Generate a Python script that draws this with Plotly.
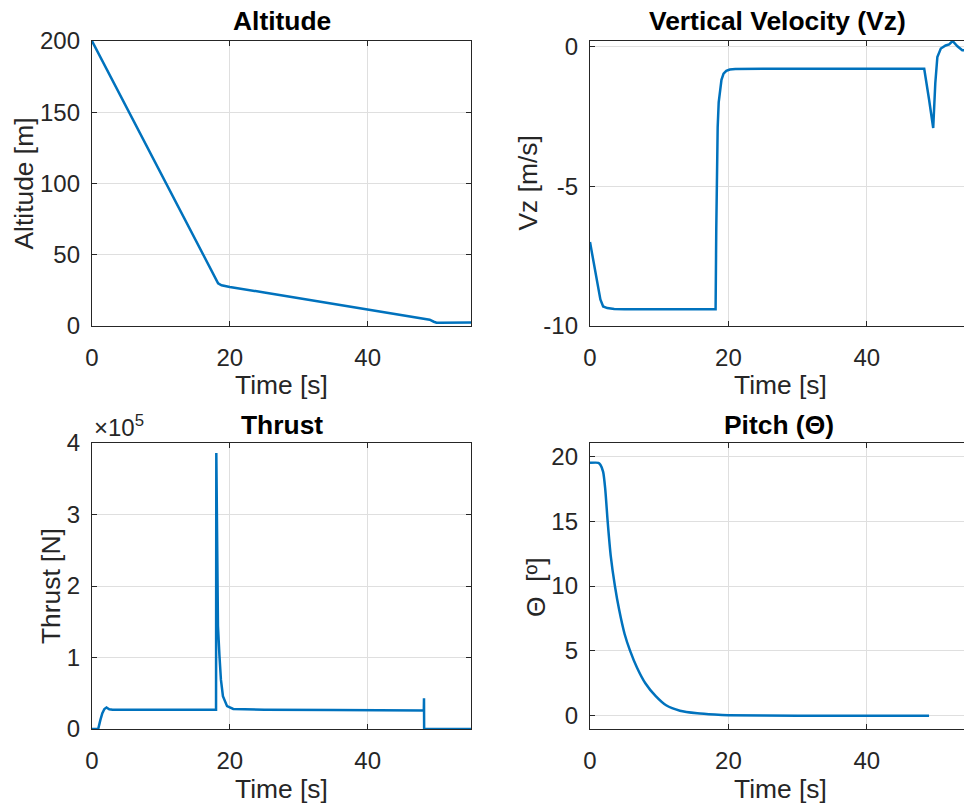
import plotly.graph_objects as go

# ---------------- data ----------------
t_alt = [0, 2, 5, 10, 15, 17.5, 18.3, 18.8, 19.5, 20, 25, 30, 35, 40, 45, 48.3, 49.0, 49.6, 50.0, 50.5, 52, 55]
altitude = [200, 181.4, 153.5, 107, 60.5, 37.2, 30.0, 28.6, 27.8, 27.4, 23.5, 19.6, 15.7, 11.8, 7.9, 5.3, 4.4, 3.0, 2.3, 2.2, 2.2, 2.4]

t_vz = [0, 0.5, 1.0, 1.5, 1.9, 2.5, 3.5, 5, 10, 15, 18.15, 18.25, 18.35, 18.45, 18.6, 18.8, 19.0, 19.3, 19.7, 20.2, 21,
        25, 30, 40, 48.3, 49.0, 49.6, 49.9, 50.2, 50.7, 51.4, 51.9, 52.4, 53.1, 53.8, 54.3, 55]
vz = [-7.0, -7.7, -8.4, -9.05, -9.3, -9.36, -9.39, -9.4, -9.4, -9.4, -9.4, -6.5, -4.0, -2.9, -2.0, -1.45, -1.2, -0.98, -0.88, -0.83, -0.81,
      -0.8, -0.8, -0.8, -0.8, -1.9, -2.92, -1.33, -0.38, -0.08, 0.03, 0.07, 0.19, 0.0, -0.14, -0.15, -0.12]

t_thrust = [0, 0.9, 1.2, 1.5, 1.8, 2.1, 2.5, 3, 10, 18.0, 18.04, 18.15, 18.28, 18.5, 18.71, 19.0, 19.6, 20.5, 25, 35, 48.15, 48.18, 48.2, 55]
thrust = [0, 0, 1.2e4, 2.2e4, 2.8e4, 3.0e4, 2.75e4, 2.7e4, 2.7e4, 2.7e4, 3.86e5, 2.6e5, 1.44e5, 1.02e5, 0.69e5, 0.46e5, 0.32e5, 0.28e5, 0.27e5, 0.265e5, 0.26e5, 0.43e5, 0, 0]

t_pitch = [0, 1.2, 1.5, 1.9, 2.2, 2.55, 3.0, 3.6, 4.2, 5.0, 5.8, 6.8, 8.0, 9.5, 11, 13, 15.5, 18, 20, 30, 40, 49.0]
pitch = [19.5, 19.5, 19.35, 18.8, 17.5, 15.0, 12.3, 10.0, 8.2, 6.3, 5.0, 3.7, 2.5, 1.5, 0.8, 0.38, 0.18, 0.08, 0.03, 0, 0, 0]

time_ticks = [0, 20, 40]
alt_ticks = [0, 50, 100, 150, 200]
vz_ticks = [-10, -5, 0]
vz_ticktext = ["-10", "-5", "0"]
thrust_tickvals = [0, 1e5, 2e5, 3e5, 4e5]
thrust_ticktext = ["0", "1", "2", "3", "4"]
pitch_ticks = [0, 5, 10, 15, 20]

# ---------------- styling ----------------
W, H = 964, 805
LINE = "#0072BD"
AX = "#262626"
GRID = "#dfdfdf"
FONT = "Liberation Sans, Arial, Helvetica, sans-serif"
TICK_SIZE = 24
LABEL_SIZE = 26.4

def px(x):
    return x / W

def py(y):
    return 1 - y / H

LX = [px(92), px(471)]
RX = [px(590), 1.0]
TY = [py(326), py(41)]
BY = [py(729), py(443)]

def xax(domain, anchor, rng):
    return dict(domain=domain, anchor=anchor, range=rng, tickvals=time_ticks, automargin=False,
                showline=True, linecolor=AX, linewidth=1.3, mirror="ticks",
                ticks="inside", ticklen=5, tickwidth=1.2, tickcolor=AX,
                showgrid=True, gridcolor=GRID, gridwidth=1, zeroline=False,
                tickfont=dict(family=FONT, size=TICK_SIZE, color=AX), ticklabelstandoff=10)

def yax(domain, anchor, rng, tickvals, ticktext=None, mirror=True):
    d = dict(domain=domain, anchor=anchor, range=rng, tickvals=tickvals, automargin=False,
             showline=True, linecolor=AX, linewidth=1.3, mirror="ticks" if mirror else False,
             ticks="inside", ticklen=5, tickwidth=1.2, tickcolor=AX,
             showgrid=True, gridcolor=GRID, gridwidth=1, zeroline=False,
             tickfont=dict(family=FONT, size=TICK_SIZE, color=AX), ticklabelstandoff=6)
    if ticktext is not None:
        d["ticktext"] = ticktext
    return d

fig = go.Figure()
line = dict(color=LINE, width=2.5)
fig.add_trace(go.Scatter(x=t_alt, y=altitude, mode="lines", line=line, xaxis="x", yaxis="y", showlegend=False))
fig.add_trace(go.Scatter(x=t_vz, y=vz, mode="lines", line=line, xaxis="x2", yaxis="y2", showlegend=False))
fig.add_trace(go.Scatter(x=t_thrust, y=thrust, mode="lines", line=line, xaxis="x3", yaxis="y3", showlegend=False))
fig.add_trace(go.Scatter(x=t_pitch, y=pitch, mode="lines", line=dict(color=LINE, width=2.5, shape="spline", smoothing=0.6),
                         xaxis="x4", yaxis="y4", showlegend=False))

fig.update_layout(
    template="none",
    width=W, height=H,
    margin=dict(l=0, r=0, t=0, b=0, autoexpand=False),
    paper_bgcolor="white", plot_bgcolor="white",
    xaxis=xax(LX, "y", [0, 55]),
    yaxis=yax(TY, "x", [0, 200], alt_ticks),
    xaxis2=xax(RX, "y2", [0, 54.05]),
    yaxis2=yax(TY, "x2", [-10, 0.19], vz_ticks, vz_ticktext, mirror=False),
    xaxis3=xax(LX, "y3", [0, 55]),
    yaxis3=yax(BY, "x3", [0, 4e5], thrust_tickvals, thrust_ticktext),
    xaxis4=xax(RX, "y4", [0, 54.05]),
    yaxis4=yax(BY, "x4", [-1.03, 21.03], pitch_ticks, mirror=False),
)

anns = []
def ann(text, x, y, size=LABEL_SIZE, color=AX, angle=0, xanchor="center", yanchor="middle"):
    anns.append(dict(text=text, x=px(x), y=py(y), xref="paper", yref="paper", showarrow=False,
                     textangle=angle, xanchor=xanchor, yanchor=yanchor,
                     font=dict(family=FONT, size=size, color=color)))

# titles
ann("<b>Altitude</b>", 281.5, 21, color="black")
ann("<b>Vertical Velocity (Vz)</b>", 777, 21, color="black")
ann("<b>Thrust</b>", 281.5, 425, color="black")
ann("<b>Pitch (Θ)</b>", 779, 425, color="black")
# x labels
ann("Time [s]", 281.5, 385)
ann("Time [s]", 780, 385)
ann("Time [s]", 281.5, 789)
ann("Time [s]", 780, 789)
# y labels
ann("Altitude [m]", 24, 183.5, angle=-90)
ann("Vz [m/s]", 528, 183.5, angle=-90)
ann("Thrust [N]", 51, 586, angle=-90)
ann("Θ  [º]", 536, 587, angle=-90)
# exponent
ann("×10<sup>5</sup>", 92, 443, size=TICK_SIZE, xanchor="left", yanchor="bottom")

fig.update_layout(annotations=anns)
fig.write_html("out.html", config={"displayModeBar": False},
               post_script="document.body.style.margin='0';document.body.style.overflow='hidden';")
